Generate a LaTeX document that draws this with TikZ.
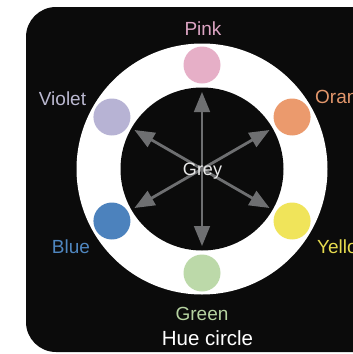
\documentclass[tikz,border=0pt]{standalone}
\usepackage{fontspec}
\setmainfont{Liberation Sans}
\usetikzlibrary{arrows.meta}
\definecolor{bgblack}{HTML}{0B0B0B}
\definecolor{arrowgrey}{HTML}{6E6F71}
\definecolor{cpink}{HTML}{E6AFC7}
\definecolor{corange}{HTML}{EB9A6D}
\definecolor{cyellow}{HTML}{F0E45A}
\definecolor{cgreen}{HTML}{BCD9A9}
\definecolor{cblue}{HTML}{4C82BD}
\definecolor{cviolet}{HTML}{B7B3D4}
\definecolor{lpink}{HTML}{DCA4C3}
\definecolor{lorange}{HTML}{E2966B}
\definecolor{lyellow}{HTML}{E6DB4E}
\definecolor{lgreen}{HTML}{B6D3A1}
\definecolor{lblue}{HTML}{4F86BF}
\definecolor{lviolet}{HTML}{BAB8D0}
\definecolor{greytext}{HTML}{E8E8E8}
\tikzset{
  dot/.style={circle, minimum size=37pt, inner sep=0pt, fill=#1},
  lab/.style={inner sep=0pt, font=\fontsize{19}{21}\selectfont, text=#1},
  dblarrow/.style={draw=arrowgrey, line width=#1, {Triangle[width=16pt,length=20pt]}-{Triangle[width=16pt,length=20pt]}},
}
\begin{document}
\begin{tikzpicture}[x=1pt,y=-1pt]
\useasboundingbox (0,0) rectangle (353,354);
\fill[white] (0,0) rectangle (353,354);
\fill[bgblack, rounded corners=30pt] (26,7) rectangle (400,352);
\coordinate (c) at (202,169);
\fill[white] (c) circle[radius=125.5];
\fill[bgblack] (c) circle[radius=81.5];
\begin{scope}[shift={(202,169)}]
  % colour dots
  \node[dot=cpink]   (pink)   at (-90:104) {};
  \node[dot=corange] (orange) at (-30:104) {};
  \node[dot=cyellow] (yellow) at (30:104) {};
  \node[dot=cgreen]  (green)  at (90:104) {};
  \node[dot=cblue]   (blue)   at (150:104) {};
  \node[dot=cviolet] (violet) at (210:104) {};
  % arrow ends
  \coordinate (a90)  at (-90:77);
  \coordinate (a270) at (90:77);
  \coordinate (a30)  at (-30:78);
  \coordinate (a210) at (150:78);
  \coordinate (a150) at (210:78);
  \coordinate (a330) at (30:78);
\end{scope}
\draw[dblarrow=2.8pt] (a150) -- (a330);
\draw[dblarrow=2.8pt] (a30) -- (a210);
\draw[dblarrow=1.6pt] (a90) -- (a270);
\node[lab=greytext, anchor=base, font=\fontsize{18}{20}\selectfont] (grey) at (202.5,175) {Grey};
% labels
\node[lab=lpink, anchor=base] (pinkl) at (203,35) {Pink};
\node[lab=lviolet, anchor=base] (violetl) at (62.5,105) {Violet};
\node[lab=lorange, anchor=base west] (orangel) at (315,103) {Orange};
\node[lab=lblue, anchor=base] (bluel) at (71,253) {Blue};
\node[lab=lyellow, anchor=base west] (yellowl) at (317,253) {Yellow};
\node[lab=lgreen, anchor=base] (greenl) at (202,320) {Green};
\node[lab=white, anchor=base, font=\fontsize{20.5}{22}\selectfont] (title) at (207.5,345) {Hue circle};
\end{tikzpicture}
\end{document}
